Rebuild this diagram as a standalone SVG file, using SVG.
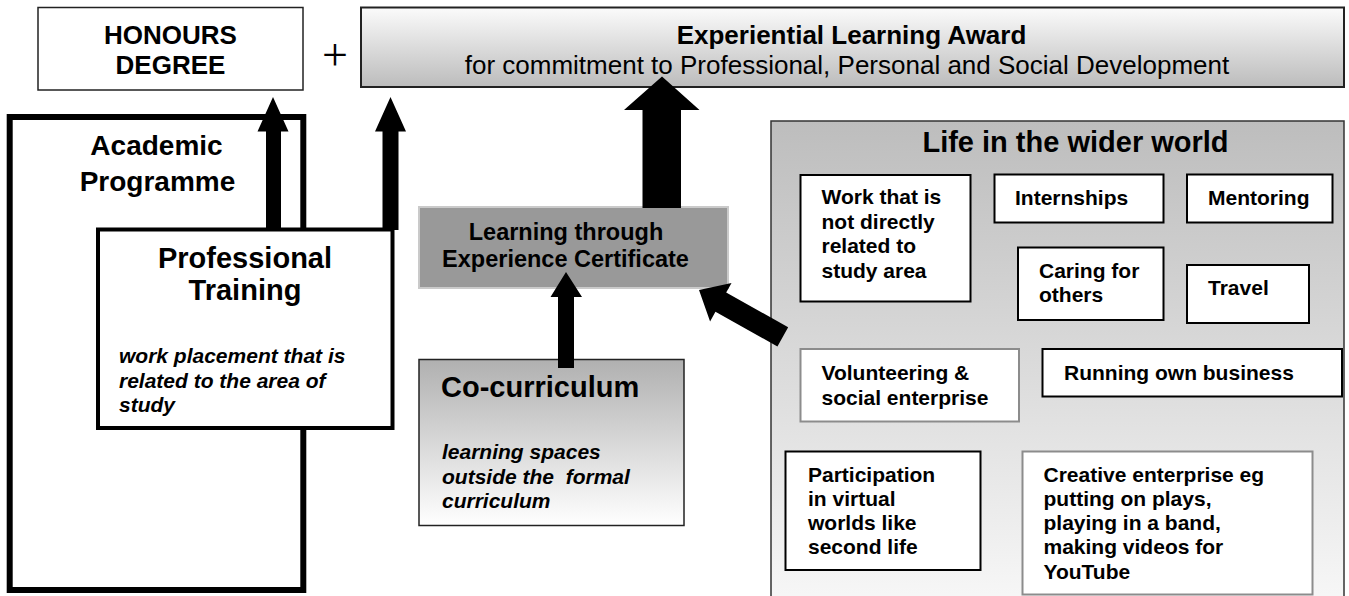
<svg xmlns="http://www.w3.org/2000/svg" width="1349" height="596" viewBox="0 0 1349 596">
  <defs>
    <linearGradient id="gAward" x1="0" y1="0" x2="0" y2="1">
      <stop offset="0" stop-color="#fbfbfb"/>
      <stop offset="1" stop-color="#bcbcbc"/>
    </linearGradient>
    <linearGradient id="gLife" x1="0" y1="0" x2="0" y2="1">
      <stop offset="0" stop-color="#bdbdbd"/>
      <stop offset="1" stop-color="#f8f8f8"/>
    </linearGradient>
    <linearGradient id="gCo" x1="0" y1="0" x2="0" y2="1">
      <stop offset="0" stop-color="#b0b0b0"/>
      <stop offset="1" stop-color="#ffffff"/>
    </linearGradient>
    <style>
      text { font-family: "Liberation Sans", Arial, sans-serif; fill: #000; white-space: pre; }
      .b { font-weight: bold; }
      .c { text-anchor: middle; }
      .t26 { font-size: 26px; }
      .t29 { font-size: 29px; }
      .t28 { font-size: 28px; }
      .t24 { font-size: 23.5px; }
      .it { font-size: 21px; font-weight: bold; font-style: italic; }
      .in { font-size: 21px; font-weight: bold; }
      .box { fill: #fff; stroke: #000; stroke-width: 2; }
      .gbox { fill: #fff; stroke: #8c8c8c; stroke-width: 2; }
      .arrow { fill: #000; }
    </style>
  </defs>

  <!-- wider world panel with its activity boxes -->
  <g id="life">
    <rect x="771" y="121" width="573" height="490" fill="url(#gLife)" stroke="#333" stroke-width="1.5"/>
    <text class="b c t29" x="1075.5" y="152">Life in the wider world</text>
  </g>
  <g id="work">
    <rect class="box" x="800.5" y="175" width="170" height="126.5"/>
    <text class="in" x="821.5" y="204">Work that is</text>
    <text class="in" x="821.5" y="229">not directly</text>
    <text class="in" x="821.5" y="253">related to</text>
    <text class="in" x="821.5" y="278">study area</text>
  </g>
  <g id="internships">
    <rect class="box" x="994.5" y="174.5" width="169" height="48"/>
    <text class="in" x="1015" y="205">Internships</text>
  </g>
  <g id="mentoring">
    <rect class="box" x="1187" y="174.5" width="145.5" height="48"/>
    <text class="in" x="1208" y="205">Mentoring</text>
  </g>
  <g id="caring">
    <rect class="box" x="1018" y="247.5" width="145.5" height="72.5"/>
    <text class="in" x="1039" y="278">Caring for</text>
    <text class="in" x="1039" y="302">others</text>
  </g>
  <g id="travel">
    <rect class="box" x="1187" y="265" width="122" height="58"/>
    <text class="in" x="1208" y="295">Travel</text>
  </g>
  <g id="volunteering">
    <rect class="gbox" x="800.5" y="349" width="218.5" height="72.5"/>
    <text class="in" x="821.5" y="380">Volunteering &amp;</text>
    <text class="in" x="821.5" y="405">social enterprise</text>
  </g>
  <g id="business">
    <rect class="box" x="1042.5" y="349" width="299.5" height="47.5"/>
    <text class="in" x="1064" y="380">Running own business</text>
  </g>
  <g id="virtual">
    <rect class="box" x="785.5" y="451.5" width="195" height="118.5"/>
    <text class="in" x="808" y="482">Participation</text>
    <text class="in" x="808" y="506">in virtual</text>
    <text class="in" x="808" y="530">worlds like</text>
    <text class="in" x="808" y="554">second life</text>
  </g>
  <g id="creative">
    <rect class="gbox" x="1022.5" y="451.5" width="290" height="143"/>
    <text class="in" x="1043.5" y="482">Creative enterprise eg</text>
    <text class="in" x="1043.5" y="506">putting on plays,</text>
    <text class="in" x="1043.5" y="530">playing in a band,</text>
    <text class="in" x="1043.5" y="554">making videos for</text>
    <text class="in" x="1043.5" y="579">YouTube</text>
  </g>

  <!-- top row: degree plus award -->
  <g id="degree">
    <rect x="38" y="7.5" width="265" height="82.5" fill="#fff" stroke="#222" stroke-width="1.5"/>
    <text class="b c t26" x="170.5" y="44">HONOURS</text>
    <text class="b c t26" x="170.5" y="74">DEGREE</text>
  </g>
  <text id="plus" x="335" y="70" text-anchor="middle" style="font-family:'Liberation Serif', serif; font-size:46px;">+</text>
  <g id="award">
    <rect x="361" y="7.5" width="983" height="79.5" fill="url(#gAward)" stroke="#222" stroke-width="2"/>
    <text class="b c t26" x="851.5" y="44">Experiential Learning Award</text>
    <text class="c t26" x="847" y="74">for commitment to Professional, Personal and Social Development</text>
  </g>

  <!-- academic programme with professional training inside -->
  <g id="academic">
    <rect x="9.7" y="117" width="293.6" height="473" fill="#fff" stroke="#000" stroke-width="6"/>
    <text class="b c t28" x="156.5" y="155">Academic</text>
    <text class="b c t28" x="157.5" y="191">Programme</text>
  </g>
  <g id="training">
    <rect x="98" y="229.5" width="294.5" height="198.5" fill="#fff" stroke="#000" stroke-width="4"/>
    <text class="b c t29" x="245" y="268">Professional</text>
    <text class="b c t29" x="245" y="300">Training</text>
    <text class="it" x="119" y="363">work placement that is</text>
    <text class="it" x="119" y="388">related to the area of</text>
    <text class="it" x="119" y="412">study</text>
  </g>

  <!-- certificate and co-curriculum -->
  <g id="certificate">
    <rect x="419" y="207" width="309" height="81" fill="#999" stroke="#cacaca" stroke-width="2"/>
    <text class="b c t24" x="566" y="240">Learning through</text>
    <text class="b c t24" x="565.5" y="267">Experience Certificate</text>
  </g>
  <g id="cocurriculum">
    <rect x="419" y="359.5" width="265" height="166" fill="url(#gCo)" stroke="#222" stroke-width="1.5"/>
    <text class="b t29" x="441" y="396.5">Co-curriculum</text>
    <text class="it" x="442" y="459">learning spaces</text>
    <text class="it" x="442" y="484" xml:space="preserve">outside the  formal</text>
    <text class="it" x="442" y="508">curriculum</text>
  </g>

  <!-- block arrows -->
  <g id="connectors">
    <polygon class="arrow" points="273,97 288.5,131.5 281,131.5 281,230 266,230 266,131.5 257.5,131.5"/>
    <polygon class="arrow" points="390.5,97 406,131.5 398.5,131.5 398.5,230 382.5,230 382.5,131.5 375,131.5"/>
    <polygon class="arrow" points="662,76.5 699.5,110 681,110 681,208 642.5,208 642.5,110 624,110"/>
    <polygon class="arrow" points="566,272 582,297 574,297 574,368 558,368 558,297 550.5,297"/>
    <polygon class="arrow" transform="translate(699,290) rotate(29.2)" points="0,0 25,-22 25,-11 96,-11 96,11 25,11 25,22"/>
  </g>
</svg>
